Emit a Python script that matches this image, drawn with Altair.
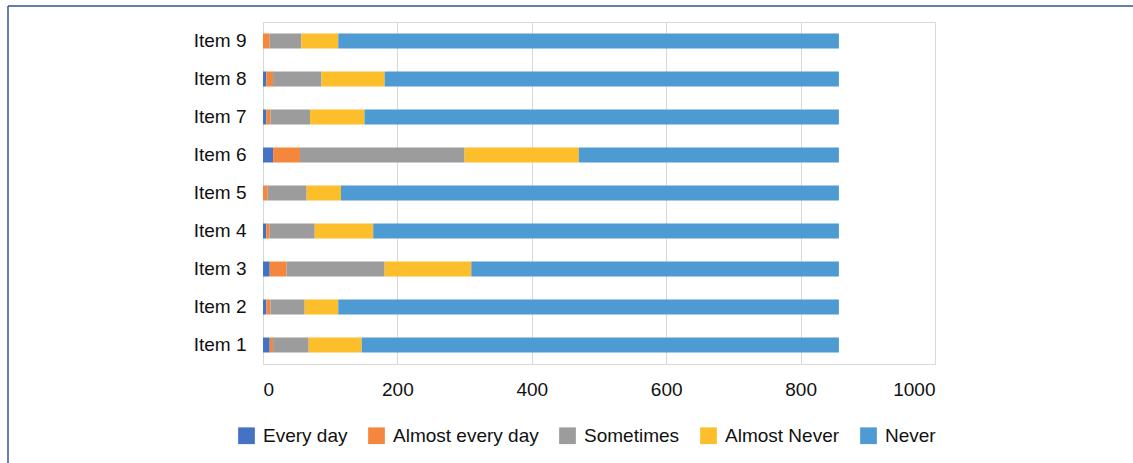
import altair as alt
import pandas as pd

items = ["Item 1", "Item 2", "Item 3", "Item 4", "Item 5", "Item 6", "Item 7", "Item 8", "Item 9"]
categories = ["Every day", "Almost every day", "Sometimes", "Almost Never", "Never"]
every_day        = [10, 5, 10, 5, 0, 15, 5, 5, 0]
almost_every_day = [5, 6, 25, 5, 7, 40, 6, 10, 10]
sometimes        = [53, 51, 146, 67, 58, 245, 59, 72, 47]
almost_never     = [79, 50, 129, 87, 51, 170, 81, 94, 55]
never            = [710, 745, 547, 693, 741, 387, 706, 676, 745]
colors = ["#4472C4", "#F5873C", "#9C9C9C", "#FDBE2B", "#4E9AD3"]
x_ticks = [0, 200, 400, 600, 800, 1000]

series = [every_day, almost_every_day, sometimes, almost_never, never]
rows = []
for ci, (cat, vals) in enumerate(zip(categories, series)):
    for item, v in zip(items, vals):
        rows.append({"item": item, "category": cat, "value": v, "order": ci})
df = pd.DataFrame(rows)

FONT = "Liberation Sans"
FS = 19

bars = alt.Chart(df).mark_bar(size=15).encode(
    y=alt.Y("item:N", sort=items[::-1], title=None,
            axis=alt.Axis(ticks=False, domain=False, grid=False, labelFontSize=FS,
                          labelFont=FONT, labelColor="#111111", labelPadding=17)),
    x=alt.X("value:Q", stack="zero", title=None,
            scale=alt.Scale(domain=[0, 1000], nice=False),
            axis=alt.Axis(values=x_ticks, format="d", ticks=False, domain=False, grid=True,
                          gridColor="#D9D9D9", labelFontSize=FS, labelFont=FONT,
                          labelColor="#111111", labelPadding=16)),
    color=alt.Color("category:N", scale=alt.Scale(domain=categories, range=colors),
                    legend=alt.Legend(title=None, orient="none", direction="horizontal",
                                      legendX=-26, legendY=404, symbolType="square",
                                      symbolSize=280, symbolStrokeWidth=0,
                                      labelFontSize=FS, labelFont=FONT, labelColor="#111111",
                                      labelOffset=7, columnPadding=19)),
    order=alt.Order("order:Q"),
)

frame_left = alt.Chart(pd.DataFrame({"a": [0]})).mark_rule(color="#2F5597", strokeWidth=1.5, clip=False).encode(
    x=alt.value(-255), y=alt.value(-16), y2=alt.value(460)
)
frame_top = alt.Chart(pd.DataFrame({"a": [0]})).mark_rule(color="#2F5597", strokeWidth=1.5, clip=False).encode(
    x=alt.value(-255), x2=alt.value(880), y=alt.value(-16)
)

chart = alt.layer(bars, frame_left, frame_top).properties(
    width=672, height=342,
    autosize=alt.AutoSizeParams(type="none"),
    padding={"left": 263, "top": 22, "right": 198, "bottom": 99},
    background="white",
).configure_view(stroke="#D9D9D9", strokeWidth=1)

chart.save("out.html", embed_options={"renderer": "svg", "actions": False})
